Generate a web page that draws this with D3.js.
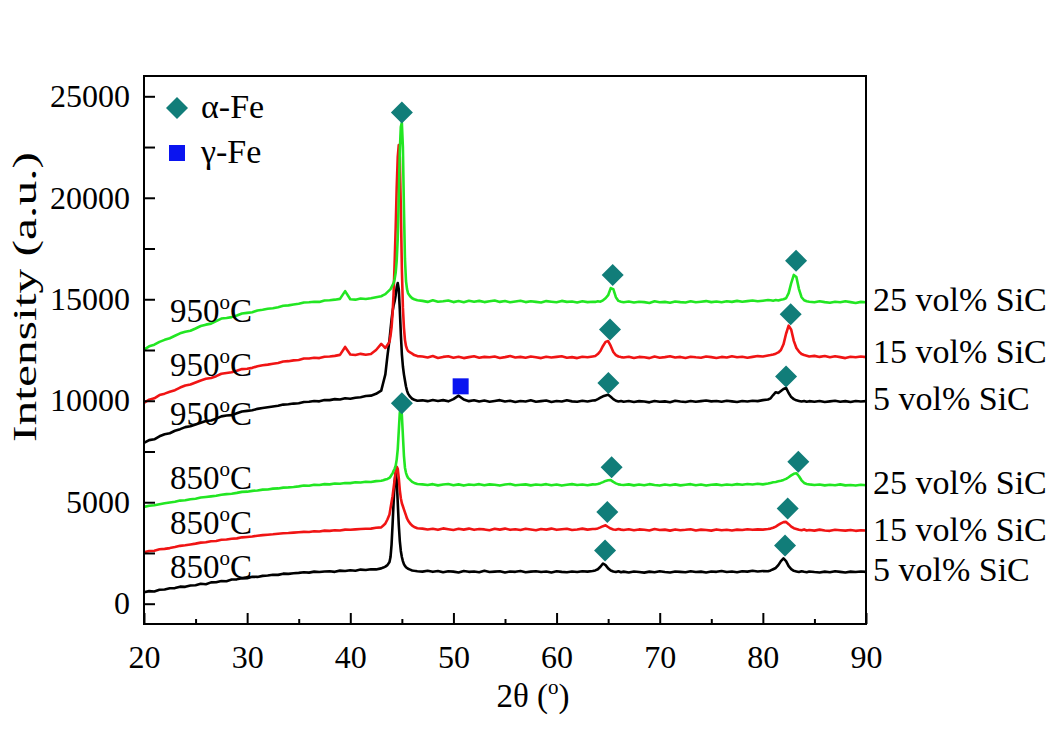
<!DOCTYPE html>
<html lang="en">
  <meta charset="utf-8" />
  <head>
    <title>XRD patterns</title>
    <script src="https://cdn.jsdelivr.net/npm/d3@7"></script>
    <style>
      body { margin: 0; background: #fff; }
      text { font-family: "Liberation Serif", "Times New Roman", serif; fill: #000; }
    </style>
  </head>
  <body>
  <script>
    // DATA (2theta grid, intensities)
    var twoTheta = [
      20,20.5,21,21.5,22,22.5,23,23.5,24,24.5,25,25.5,26,26.5,27,27.5,28,28.5,29,29.5,30,30.5,31,31.5,32,32.5,33,33.5,34,34.5,35,35.5,36,36.5,37,37.5,38,38.5,39,39.5,40,40.5,41,41.5,42,42.5,43,
      43.2,43.4,43.6,43.8,43.9,44,44.1,44.2,44.3,44.4,44.5,44.6,44.7,44.8,44.9,45,45.1,45.2,45.3,45.4,45.5,45.6,45.8,46,46.2,46.5,
      47,47.5,48,48.5,49,49.5,50,50.5,51,51.5,52,52.5,53,53.5,54,54.5,55,55.5,56,56.5,57,57.5,58,58.5,59,59.5,60,60.5,61,61.5,62,62.5,63,63.5,
      63.75,64,64.25,64.5,64.75,65,65.25,65.5,65.75,66,66.25,
      66.5,67,67.5,68,68.5,69,69.5,70,70.5,71,71.5,72,72.5,73,73.5,74,74.5,75,75.5,76,76.5,77,77.5,78,78.5,79,79.5,80,80.5,
      80.75,81,81.25,81.5,81.75,82,82.25,82.5,82.75,83,83.25,83.5,83.75,84,84.25,
      84.5,85,85.5,86,86.5,87,87.5,88,88.5,89,89.5,90
    ];

    var s850_5 = [
      560,620,600,690,700,760,770,840,830,900,910,980,960,1050,1060,1120,1110,1190,1200,1250,1260,1330,1320,1370,1390,1430,1420,1480,1470,1500,1520,1550,1530,1580,1560,1590,1600,1570,1630,1610,1650,1620,1680,1660,1700,1690,1740,
      1780,1830,1900,2050,2300,2900,3900,5000,6000,6450,6100,5000,3900,3100,2600,2300,2100,1950,1860,1800,1760,1720,1680,1640,1620,1600,
      1580,1620,1570,1610,1550,1600,1580,1540,1610,1570,1590,1550,1620,1560,1580,1600,1540,1590,1570,1610,1550,1580,1600,1560,1590,1540,1600,1570,1550,1590,1560,1600,1580,1610,
      1640,1700,1820,1980,1900,1740,1640,1590,1560,1600,1550,
      1580,1540,1590,1560,1530,1580,1550,1600,1560,1540,1590,1570,1550,1600,1560,1580,1540,1590,1570,1610,1560,1590,1550,1600,1580,1620,1590,1610,1600,
      1640,1700,1760,1900,2100,2230,2100,1850,1700,1620,1590,1560,1600,1570,1550,
      1590,1560,1540,1580,1550,1600,1570,1540,1580,1560,1590,1570
    ];
    var s850_15 = [
      2540,2600,2610,2680,2700,2740,2790,2850,2880,2920,2960,3010,3030,3080,3090,3150,3160,3200,3220,3270,3290,3310,3350,3380,3400,3420,3450,3470,3480,3500,3520,3540,3530,3570,3560,3600,3590,3620,3610,3650,3640,3660,3680,3690,3700,3740,3760,
      3850,3950,4150,4400,4700,5000,5300,5700,6100,6500,6750,6650,6200,5600,5200,4950,4800,4650,4500,4350,4200,4100,3950,3850,3780,3720,
      3700,3660,3690,3640,3710,3670,3630,3690,3650,3700,3640,3680,3660,3620,3690,3650,3700,3640,3670,3630,3690,3660,3620,3680,3650,3700,3640,3670,3690,3630,3660,3700,3650,3680,
      3680,3710,3760,3820,3860,3780,3700,3660,3640,3680,3650,
      3630,3670,3620,3660,3640,3610,3680,3630,3650,3600,3660,3620,3640,3670,3610,3650,3630,3600,3660,3620,3640,3610,3650,3630,3670,3640,3660,3650,3680,
      3700,3740,3800,3880,3960,4020,4030,3920,3800,3720,3680,3640,3620,3660,3610,
      3630,3600,3650,3610,3590,3640,3620,3600,3630,3590,3620,3610
    ];
    var s850_25 = [
      4770,4830,4850,4900,4950,4990,5020,5080,5100,5150,5170,5230,5260,5290,5320,5370,5400,5420,5460,5510,5520,5560,5580,5620,5630,5670,5680,5720,5730,5750,5780,5820,5810,5860,5850,5890,5880,5920,5910,5950,5940,5980,5970,6010,6000,6040,6060,
      6080,6120,6150,6200,6260,6350,6420,6550,6650,6800,7100,7600,8500,9400,9700,9300,8300,7300,6700,6450,6300,6200,6100,6000,5950,5900,
      5880,5850,5890,5830,5870,5900,5840,5880,5820,5870,5850,5890,5840,5880,5860,5820,5870,5900,5840,5860,5880,5830,5870,5850,5890,5840,5870,5820,5860,5890,5850,5870,5840,5880,
      5870,5900,5940,5990,6050,6080,6090,6000,5930,5880,5860,
      5850,5880,5830,5870,5840,5890,5850,5820,5870,5840,5880,5830,5860,5890,5840,5870,5820,5860,5880,5840,5870,5850,5890,5860,5900,5870,5910,5880,5920,
      5950,5980,6000,6030,6060,6100,6150,6230,6320,6400,6430,6280,6080,5950,5900,
      5880,5850,5870,5830,5860,5840,5880,5830,5850,5820,5860,5840
    ];
    var s950_5 = [
      7920,8060,8100,8250,8350,8400,8520,8600,8700,8740,8830,8920,9000,9030,9120,9230,9270,9290,9380,9470,9500,9530,9600,9640,9680,9720,9750,9810,9830,9860,9880,9940,9950,9990,9970,10040,10030,10080,10060,10120,10100,10150,10170,10230,10250,10340,10500,
      10900,11300,12200,13000,13500,14000,14400,14700,14900,15200,15600,15800,15500,14500,13300,12300,11700,11300,11000,10700,10500,10350,10200,10100,10050,10000,
      10020,9980,10040,9990,10030,9970,10080,10250,10060,9980,10020,9960,10010,9950,9990,10030,9960,10000,9940,9990,9960,10020,9950,9980,10010,9940,9990,9960,10020,9970,9950,10000,9960,10010,
      10020,10080,10150,10220,10260,10300,10200,10080,10000,9960,9990,
      9950,9990,9940,9980,9960,9920,9990,9950,9970,9930,10000,9960,9940,9990,9950,9980,10010,9970,9990,9950,10000,9970,9940,9990,9960,10000,9980,10030,10060,
      10120,10280,10420,10380,10480,10580,10630,10380,10180,10080,10020,9990,9960,9990,9950,
      9980,9950,9990,9940,9970,10000,9950,9980,9940,9990,9960,9980
    ];
    var s950_15 = [
      9900,10050,10120,10280,10350,10440,10520,10650,10750,10800,10900,11000,11080,11120,11210,11330,11370,11400,11480,11560,11580,11620,11700,11750,11780,11820,11860,11930,11950,11990,12010,12080,12080,12120,12100,12170,12180,12210,12260,12650,12280,12250,12310,12270,12300,12500,12800,
      12700,12600,12750,12900,13200,13600,14300,15300,16800,18500,20500,22000,22600,22000,19500,16500,14600,13600,13000,12700,12550,12450,12380,12320,12250,12200,
      12180,12130,12200,12110,12160,12190,12120,12170,12100,12150,12190,12120,12160,12140,12180,12110,12150,12200,12130,12160,12120,12180,12140,12100,12170,12130,12160,12190,12120,12150,12100,12170,12140,12180,
      12200,12300,12450,12700,12900,12940,12700,12400,12250,12180,12150,
      12130,12170,12110,12160,12140,12100,12180,12120,12150,12190,12130,12160,12110,12170,12140,12120,12180,12150,12110,12160,12130,12190,12140,12170,12120,12160,12200,12180,12230,
      12250,12280,12320,12380,12500,12780,13300,13700,13500,12950,12600,12420,12300,12250,12220,
      12180,12210,12160,12200,12140,12190,12150,12100,12170,12140,12180,12150
    ];
    var s950_25 = [
      12520,12680,12760,12900,13000,13080,13200,13320,13400,13450,13560,13680,13750,13800,13920,14050,14080,14120,14200,14300,14330,14360,14450,14480,14530,14560,14610,14680,14700,14740,14780,14840,14850,14880,14870,14940,14950,14980,15020,15400,15000,14980,15040,15010,15050,15100,15150,
      15200,15250,15350,15450,15500,15600,15700,15800,16000,16300,16900,18000,20000,22300,23500,23700,22500,19500,17000,15900,15500,15300,15150,15050,15000,14950,
      14920,14870,14950,14880,14900,14940,14860,14910,14850,14930,14880,14920,14860,14900,14940,14870,14910,14850,14890,14930,14860,14900,14870,14840,14910,14880,14850,14920,14870,14890,14840,14900,14860,14880,
      14870,14900,14880,14950,15050,15200,15550,15500,15100,14920,14880,
      14850,14890,14840,14880,14860,14820,14900,14850,14870,14830,14890,14860,14840,14900,14850,14880,14910,14860,14890,14850,14900,14870,14920,14880,14910,14940,14900,14930,14960,
      14950,14930,14960,14940,14980,15000,15050,15300,15800,16200,16100,15500,15100,14950,14900,
      14880,14850,14900,14860,14830,14880,14850,14900,14860,14820,14870,14850
    ];

    var seriesNames  = ["950_5", "950_15", "950_25", "850_5", "850_15", "850_25"];
    var seriesColors = ["#000000", "#f01414", "#22e622", "#000000", "#f01414", "#22e622"];
    var seriesData   = [s950_5, s950_15, s950_25, s850_5, s850_15, s850_25];

    var tempLabels = ["950", "950", "950", "850", "850", "850"];
    var tempLabelY = [13900, 11200, 8800, 5650, 3430, 1280];
    var sicLabels  = ["25 vol% SiC", "15 vol% SiC", "5 vol% SiC", "25 vol% SiC", "15 vol% SiC", "5 vol% SiC"];
    var sicLabelY  = [14400, 11850, 9550, 5420, 3100, 1100];

    var alphaPeaks = [[45.0,24200],[45.0,9880],[65.44,16190],[65.18,13510],[65.02,10870],[65.34,6720],[64.92,4520],[64.70,2620],
                      [83.22,16900],[82.70,14260],[82.25,11200],[83.44,6990],[82.41,4690],[82.15,2870]];
    var gammaPeaks = [[50.7,10710]];

    var xTicks = [20, 30, 40, 50, 60, 70, 80, 90];
    var xMinor = [25, 35, 45, 55, 65, 75, 85];
    var yTicks = [0, 5000, 10000, 15000, 20000, 25000];
    var yMinor = [2500, 7500, 12500, 17500, 22500];

    // CONFIG
    var width = 1051, height = 755;
    var plotLeft = 144, plotRight = 866, plotTop = 76, plotBottom = 624;
    var teal = "#117d79", blue = "#0a14f0";

    var x = d3.scaleLinear().domain([20, 90]).range([plotLeft, plotRight]);
    var y = d3.scaleLinear().domain([-1000, 26000]).range([plotBottom, plotTop]);

    var svg = d3.select("body").append("svg")
        .attr("width", width)
        .attr("height", height);

    svg.append("rect").attr("width", width).attr("height", height).attr("fill", "#fff");

    // patterns
    var line = d3.line()
      .x((d) => x(d[0]))
      .y((d) => y(d[1]));

    seriesData.forEach(function (vals, i) {
      var pts = twoTheta.map((t, j) => [t, vals[j]]).filter((p) => p[1] !== undefined);
      svg.append("path")
        .attr("class", "pattern s" + seriesNames[i])
        .attr("d", line(pts))
        .attr("fill", "none")
        .attr("stroke", seriesColors[i])
        .attr("stroke-width", 2.6)
        .attr("stroke-linejoin", "round");
    });

    // peak markers
    var diamond = d3.symbol(d3.symbolSquare, 242);
    svg.selectAll(".alpha")
      .data(alphaPeaks).enter()
      .append("path")
        .attr("class", "alpha")
        .attr("d", diamond)
        .attr("fill", teal)
        .attr("transform", (d) => `translate(${x(d[0])},${y(d[1])}) rotate(45)`);

    svg.selectAll(".gamma")
      .data(gammaPeaks).enter()
      .append("rect")
        .attr("class", "gamma")
        .attr("x", (d) => x(d[0]) - 8)
        .attr("y", (d) => y(d[1]) - 8)
        .attr("width", 16)
        .attr("height", 16)
        .attr("fill", blue);

    // axes
    svg.append("g")
      .attr("transform", `translate(0,${plotBottom})`)
      .call(d3.axisBottom(x).tickValues(xTicks).tickSizeInner(-11).tickSizeOuter(0).tickPadding(21).tickFormat(d3.format("d")));
    svg.append("g")
      .attr("transform", `translate(0,${plotBottom})`)
      .call(d3.axisBottom(x).tickValues(xMinor).tickSizeInner(-5).tickSizeOuter(0).tickFormat(""));

    svg.append("g")
      .attr("transform", `translate(${plotLeft},0)`)
      .call(d3.axisLeft(y).tickValues(yTicks).tickSizeInner(-11).tickSizeOuter(0).tickPadding(14).tickFormat(d3.format("d")));
    svg.append("g")
      .attr("transform", `translate(${plotLeft},0)`)
      .call(d3.axisLeft(y).tickValues(yMinor).tickSizeInner(-11).tickSizeOuter(0).tickFormat(""));

    svg.selectAll(".domain").remove();
    svg.selectAll(".tick line").attr("stroke", "#000").attr("stroke-width", 2);
    svg.selectAll(".tick text")
      .style("font-family", "Liberation Serif, serif")
      .style("font-size", "32px")
      .attr("fill", "#000");

    svg.append("rect")
      .attr("x", plotLeft).attr("y", plotTop)
      .attr("width", plotRight - plotLeft).attr("height", plotBottom - plotTop)
      .attr("fill", "none")
      .attr("stroke", "#000")
      .attr("stroke-width", 2);

    // temperature labels
    tempLabels.forEach(function (t, i) {
      var tx = svg.append("text")
        .attr("x", 170)
        .attr("y", y(tempLabelY[i]))
        .style("font-size", "33px");
      tx.append("tspan").text(t);
      tx.append("tspan").attr("dy", -13).style("font-size", "21px").text("o");
      tx.append("tspan").attr("dy", 13).text("C");
    });

    // composition labels
    svg.selectAll(".sic")
      .data(sicLabels).enter()
      .append("text")
        .attr("class", "sic")
        .attr("x", 873)
        .attr("y", (d, i) => y(sicLabelY[i]))
        .style("font-size", "34px")
        .text((d) => d);

    // legend
    svg.append("path")
      .attr("d", diamond)
      .attr("fill", teal)
      .attr("transform", "translate(177,108) rotate(45)");
    svg.append("text").attr("x", 201).attr("y", 118).style("font-size", "34px").text("\u03b1-Fe");
    svg.append("rect")
      .attr("x", 169).attr("y", 145).attr("width", 16).attr("height", 16)
      .attr("fill", blue);
    svg.append("text").attr("x", 201).attr("y", 163).style("font-size", "34px").text("\u03b3-Fe");

    // axis titles
    var xt = svg.append("text")
      .attr("x", 533).attr("y", 707)
      .attr("text-anchor", "middle")
      .style("font-size", "33px");
    xt.append("tspan").text("2\u03b8 (");
    xt.append("tspan").attr("dy", -13).style("font-size", "21px").text("o");
    xt.append("tspan").attr("dy", 13).text(")");

    svg.append("text")
      .attr("transform", "translate(36,297) rotate(-90)")
      .attr("text-anchor", "middle")
      .attr("textLength", 290)
      .attr("lengthAdjust", "spacingAndGlyphs")
      .style("font-size", "34px")
      .text("Intensity (a.u.)");
  </script>
  </body>
</html>
